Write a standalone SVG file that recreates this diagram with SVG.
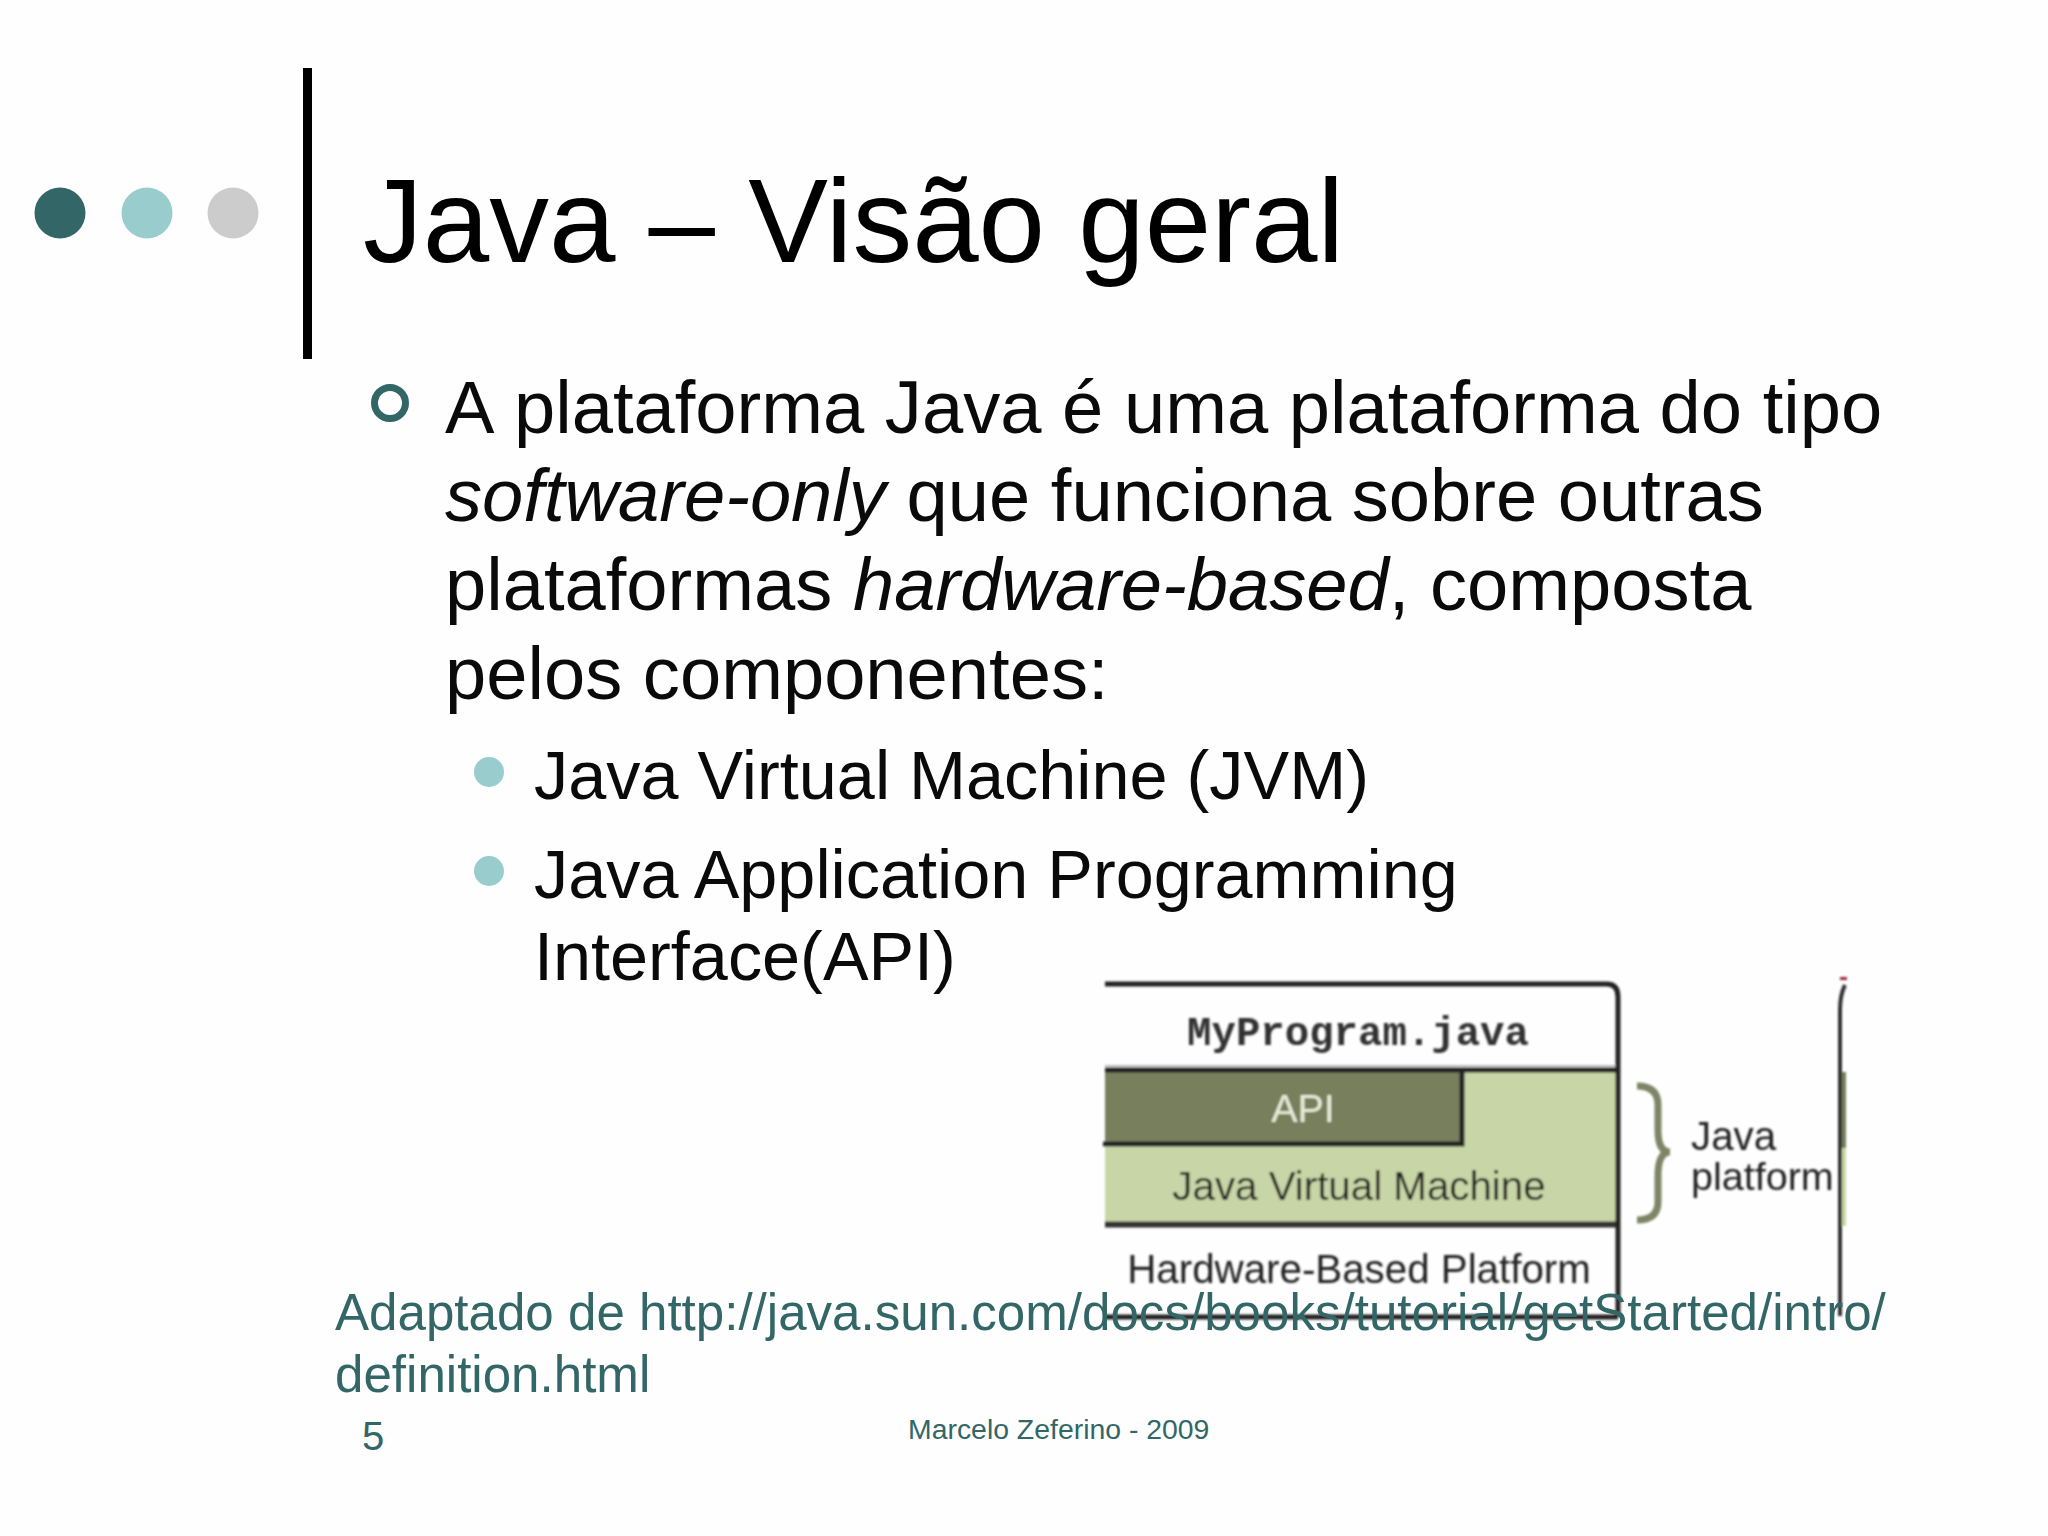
<svg xmlns="http://www.w3.org/2000/svg" width="2048" height="1536" viewBox="0 0 2048 1536">
<defs>
<style>
text{font-family:"Liberation Sans",Arial,sans-serif}
.b{font-size:74.15px;fill:#0a0a0a}
.s{font-size:68.4px;fill:#0a0a0a}
.t{fill:#336666}
.f{font-size:40.3px;fill:#222}
</style>
<filter id="soft" x="-5%" y="-5%" width="110%" height="110%"><feGaussianBlur stdDeviation="0.9"/></filter>
</defs>
<rect width="2048" height="1536" fill="#fefefe"/>
<g id="decor">
<circle cx="60" cy="213" r="25.5" fill="#336666"/>
<circle cx="147" cy="213" r="25.5" fill="#99cccc"/>
<circle cx="233" cy="213" r="25.5" fill="#cccccc"/>
<rect x="303" y="68" width="9" height="291" fill="#000"/>
</g>
<g id="title"><text x="363" y="262" font-size="119.5" fill="#000">Java – Visão geral</text></g>
<g id="body">
<circle cx="390" cy="403" r="15.5" fill="none" stroke="#336666" stroke-width="7"/>
<text class="b" x="445" y="433">A<tspan dx="3"> plataforma Java é uma plataforma do tipo</tspan></text>
<text class="b" x="445" y="521"><tspan font-style="italic">software-only</tspan> que funciona sobre outras</text>
<text class="b" x="445" y="610">plataformas <tspan font-style="italic">hardware-based</tspan>, composta</text>
<text class="b" x="445" y="699">pelos componentes:</text>
<circle cx="489" cy="772" r="15" fill="#99cccc"/>
<text class="s" x="534" y="799">Java Virtual Machine (JVM)</text>
<circle cx="489" cy="871" r="15" fill="#99cccc"/>
<text class="s" x="534" y="898">Java Application Programming</text>
<text class="s" x="534" y="980">Interface(API)</text>
</g>
<g id="figure" filter="url(#soft)">
<rect x="1105" y="1070" width="513" height="153" fill="#c8d5a6"/>
<rect x="1105" y="1070" width="356" height="73" fill="#777f5c"/>
<path d="M1105 1144H1464V1070" fill="none" stroke="#222" stroke-width="5" transform="translate(-2 0)"/>
<path d="M1105 1070H1618" stroke="#222" stroke-width="5"/>
<path d="M1105 1066H1618" stroke="#bbb" stroke-width="2"/>
<path d="M1105 1224.500H1618" stroke="#333" stroke-width="6"/>
<path d="M1105 984H1607Q1618 984 1618 997V1316" fill="none" stroke="#222" stroke-width="5"/>
<path d="M1105 1317H1618" stroke="#222" stroke-width="5"/>
<path d="M1637 1086Q1658 1086 1658 1105V1130Q1658 1152 1670 1152Q1658 1152 1658 1176V1202Q1658 1220 1637 1220" fill="none" stroke="#7e8566" stroke-width="7"/>
<path d="M1840 1316V1010Q1840 995 1845 985" fill="none" stroke="#333" stroke-width="4"/>
<rect x="1842" y="1072" width="4" height="76" fill="#777f5c"/>
<rect x="1842" y="1148" width="4" height="78" fill="#c8d5a6"/>
<rect x="1840" y="977" width="7" height="3" fill="#a02040"/>
<text x="1361" y="1045" text-anchor="middle" font-weight="bold" font-size="40.700" fill="#333" style="font-family:'Liberation Mono',monospace" transform="translate(-3 0)">MyProgram.java</text>
<text x="1303" y="1122" text-anchor="middle" font-size="39.500" fill="#e8ecd8">API</text>
<text x="1359" y="1200" text-anchor="middle" class="f">Java Virtual Machine</text>
<text x="1359" y="1283" text-anchor="middle" class="f">Hardware-Based Platform</text>
<text x="1696" y="1150" class="f" transform="translate(-5 0)">Java</text>
<text x="1691" y="1190" class="f" font-size="39.5" style="font-size:39.5px">platform</text>
</g>
<g id="source">
<text class="t" x="335" y="1330" font-size="51.100">Adaptado de http://java.sun.com/docs/books/tutorial/getStarted/intro/</text>
<text class="t" x="335" y="1392" font-size="51.100">definition.html</text>
</g>
<g id="footer">
<text class="t" x="362" y="1450" font-size="40">5</text>
<text class="t" x="908" y="1439" font-size="28.400">Marcelo Zeferino - 2009</text>
</g>
</svg>
